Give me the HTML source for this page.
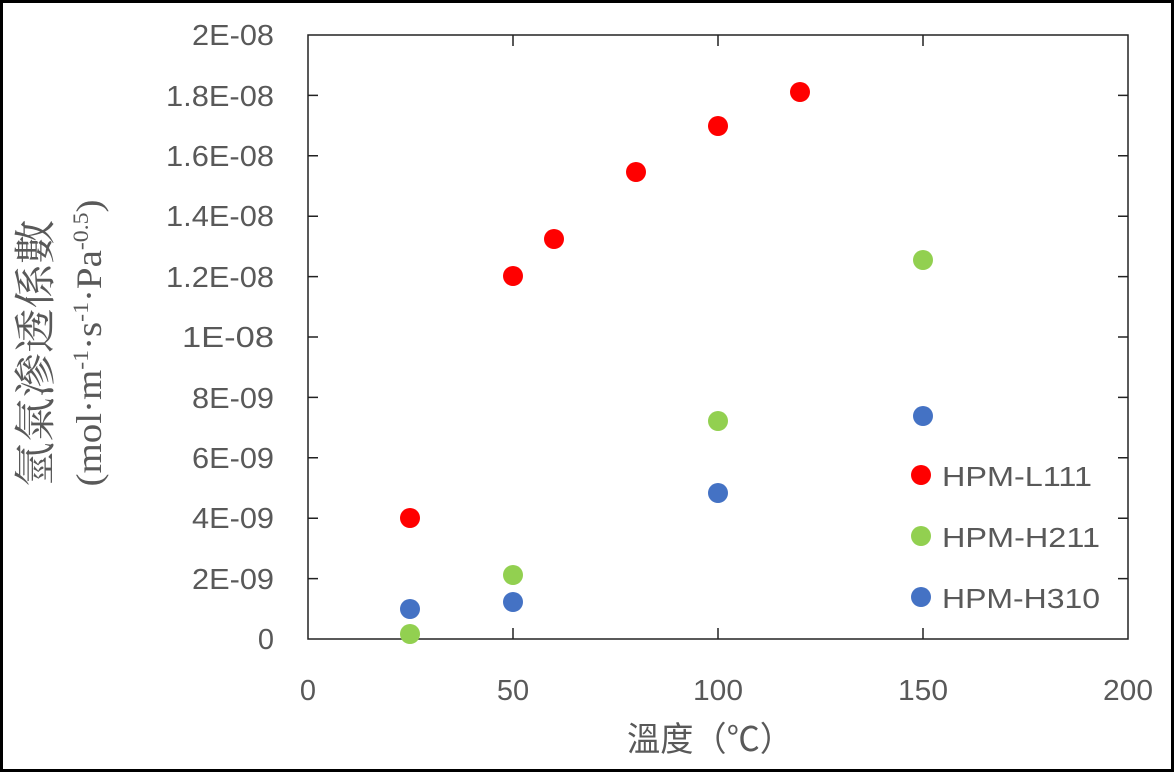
<!DOCTYPE html>
<html><head><meta charset="utf-8"><style>
body{margin:0;background:#fff}
svg{display:block}
</style></head><body>
<svg width="1175" height="773" xmlns="http://www.w3.org/2000/svg">
<rect x="1.5" y="1.5" width="1171" height="769" fill="#fff" stroke="#000" stroke-width="3"/>
<rect x="308" y="35" width="820" height="604" fill="none" stroke="#222" stroke-width="1.5"/>
<g stroke="#222" stroke-width="1.5">
<path d="M308 95.4h10M308 155.8h10M308 216.2h10M308 276.6h10M308 337h10M308 397.4h10M308 457.8h10M308 518.2h10M308 578.6h10"/>
<path d="M1128 95.4h-10M1128 155.8h-10M1128 216.2h-10M1128 276.6h-10M1128 337h-10M1128 397.4h-10M1128 457.8h-10M1128 518.2h-10M1128 578.6h-10"/>
<path d="M513 639v-11M718 639v-11M923 639v-11M513 35v11M718 35v11M923 35v11"/>
</g>
<g font-family="Liberation Sans, sans-serif" font-size="29" fill="#595959" text-anchor="end">
<text x="274" y="45" textLength="82" lengthAdjust="spacingAndGlyphs">2E-08</text>
<text x="274" y="106" textLength="108" lengthAdjust="spacingAndGlyphs">1.8E-08</text>
<text x="274" y="166" textLength="108" lengthAdjust="spacingAndGlyphs">1.6E-08</text>
<text x="274" y="226" textLength="108" lengthAdjust="spacingAndGlyphs">1.4E-08</text>
<text x="274" y="287" textLength="108" lengthAdjust="spacingAndGlyphs">1.2E-08</text>
<text x="274" y="347" textLength="92" lengthAdjust="spacingAndGlyphs">1E-08</text>
<text x="274" y="408" textLength="82" lengthAdjust="spacingAndGlyphs">8E-09</text>
<text x="274" y="468" textLength="82" lengthAdjust="spacingAndGlyphs">6E-09</text>
<text x="274" y="528" textLength="82" lengthAdjust="spacingAndGlyphs">4E-09</text>
<text x="274" y="589" textLength="82" lengthAdjust="spacingAndGlyphs">2E-09</text>
<text x="274" y="649">0</text>
</g>
<g font-family="Liberation Sans, sans-serif" font-size="29" fill="#595959" text-anchor="middle">
<text x="308" y="700">0</text><text x="513" y="700">50</text><text x="718" y="700" textLength="50" lengthAdjust="spacingAndGlyphs">100</text>
<text x="923" y="700" textLength="50" lengthAdjust="spacingAndGlyphs">150</text><text x="1128" y="700" textLength="50" lengthAdjust="spacingAndGlyphs">200</text>
</g>
<text x="710" y="751" text-anchor="middle" font-family="Liberation Sans, 'Noto Sans CJK TC', sans-serif" font-size="34" fill="#595959" textLength="166" lengthAdjust="spacingAndGlyphs">溫度（℃）</text>
<g fill="#595959" font-family="Liberation Serif, 'Noto Serif CJK SC', serif" text-anchor="middle">
<text transform="translate(50,353) rotate(-90)" font-size="42" textLength="267" lengthAdjust="spacingAndGlyphs">氫氣滲透係數</text>
<text transform="translate(101,343) rotate(-90)" font-size="36" textLength="287" lengthAdjust="spacingAndGlyphs">(mol·m<tspan font-size="22" dy="-13">-1</tspan><tspan dy="13">·s</tspan><tspan font-size="22" dy="-13">-1</tspan><tspan dy="13">·Pa</tspan><tspan font-size="22" dy="-13">-0.5</tspan><tspan dy="13">)</tspan></text>
</g>
<g fill="#ff0000">
<circle cx="410" cy="518" r="10"/><circle cx="513" cy="276" r="10"/><circle cx="554" cy="239" r="10"/>
<circle cx="636" cy="172" r="10"/><circle cx="718" cy="126" r="10"/><circle cx="800" cy="92" r="10"/>
<circle cx="921" cy="475" r="10"/>
</g>
<g fill="#92d050">
<circle cx="410" cy="634" r="10"/><circle cx="513" cy="575" r="10"/><circle cx="718" cy="421" r="10"/>
<circle cx="923" cy="260" r="10"/><circle cx="921" cy="536" r="10"/>
</g>
<g fill="#4472c4">
<circle cx="410" cy="609" r="10"/><circle cx="513" cy="602" r="10"/><circle cx="718" cy="493" r="10"/>
<circle cx="923" cy="416" r="10"/><circle cx="921" cy="597" r="10"/>
</g>
<g font-family="Liberation Sans, sans-serif" font-size="28" fill="#595959">
<text x="942" y="486" textLength="150" lengthAdjust="spacingAndGlyphs">HPM-L111</text>
<text x="942" y="547" textLength="158" lengthAdjust="spacingAndGlyphs">HPM-H211</text>
<text x="942" y="608" textLength="158" lengthAdjust="spacingAndGlyphs">HPM-H310</text>
</g>
</svg>
</body></html>
